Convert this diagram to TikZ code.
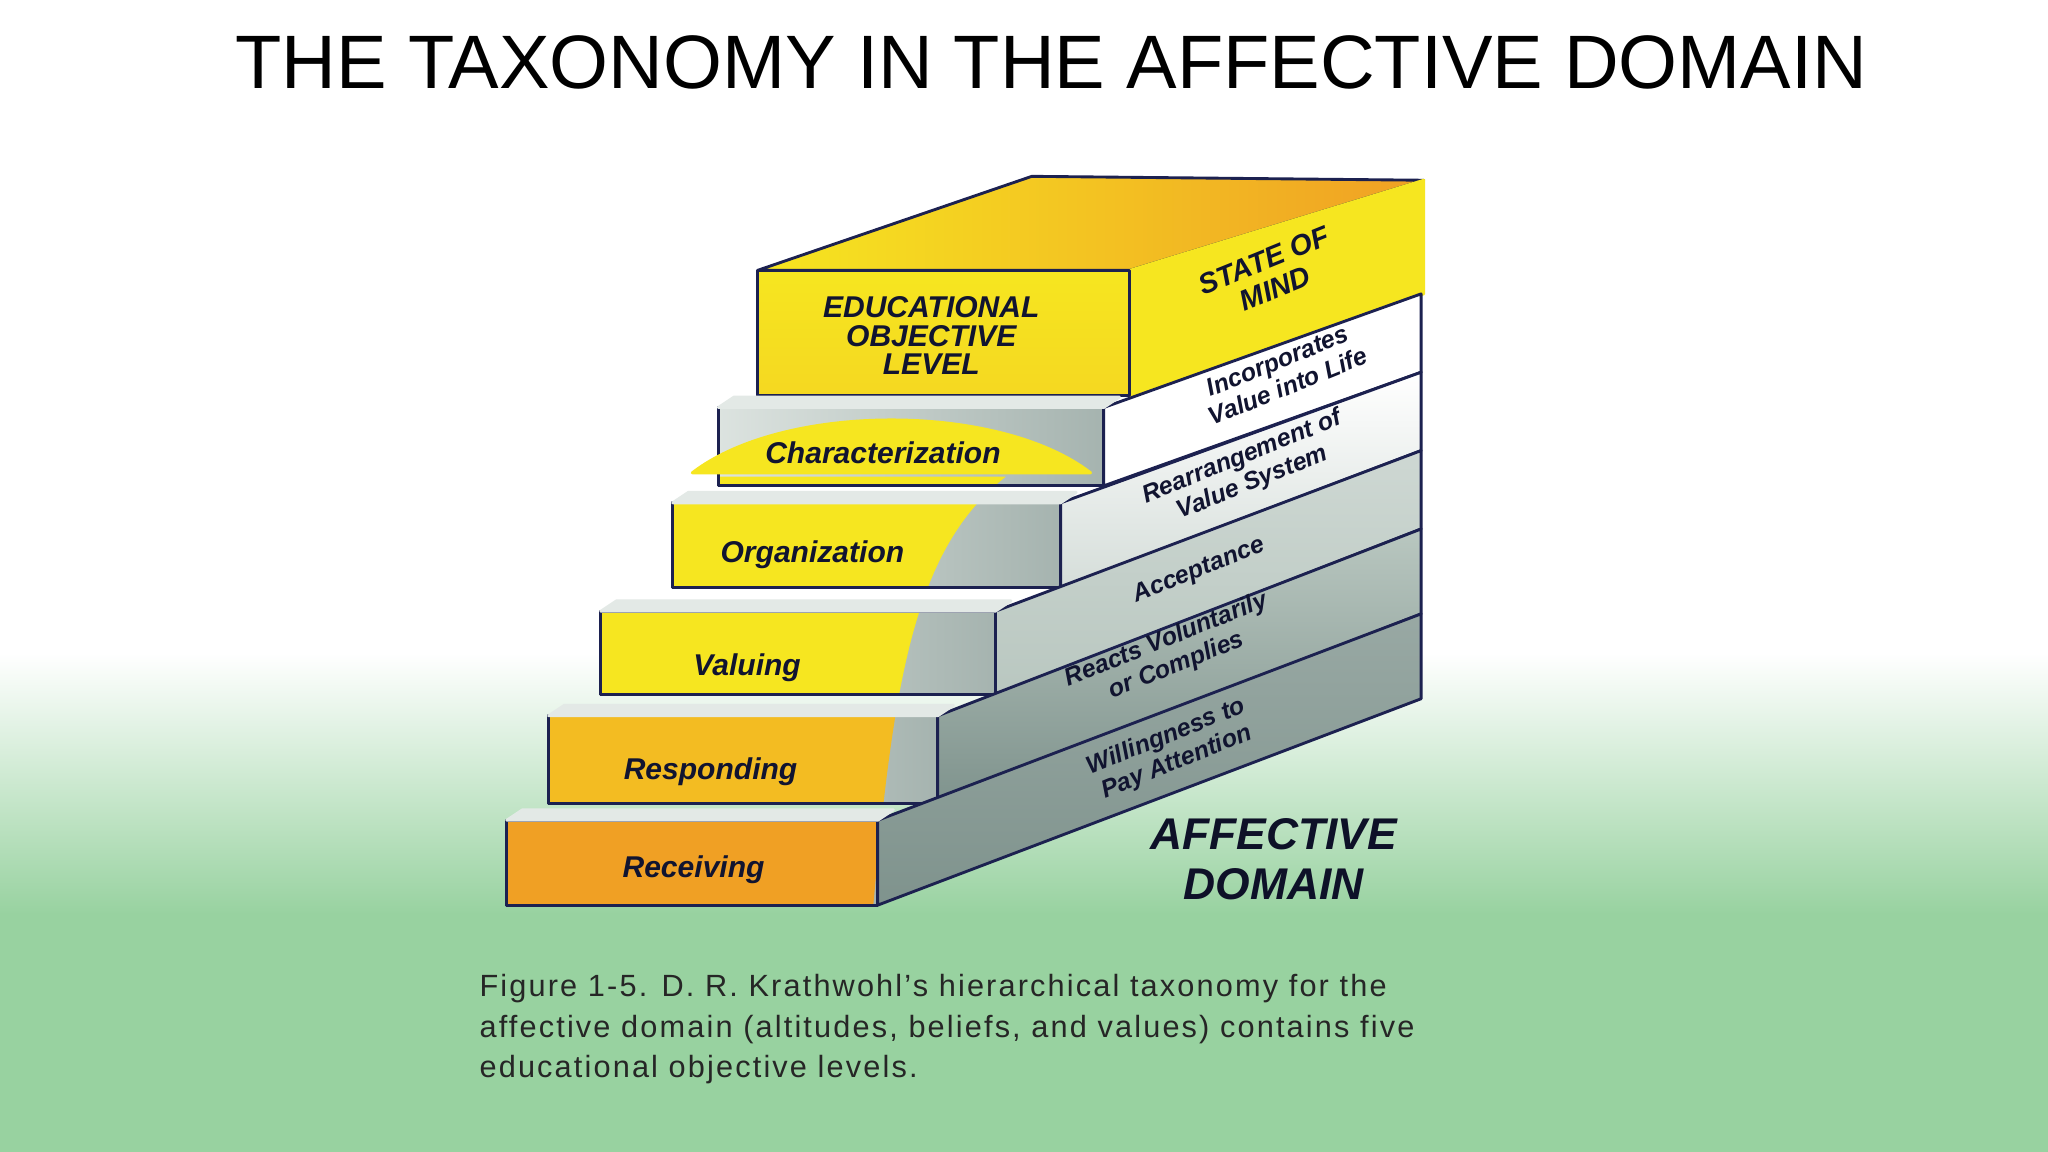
\documentclass[tikz,border=0pt]{standalone}
\usepackage{fontspec}
\setmainfont{Liberation Sans}
\definecolor{navy}{HTML}{1C2150}
\definecolor{yel}{HTML}{F6E620}
\definecolor{org}{HTML}{F0A024}
\definecolor{gA}{HTML}{B9C7C0}
\definecolor{gB}{HTML}{7F938D}
\definecolor{grn}{HTML}{98D2A0}
\newcommand\myarch{(668,700) .. controls (684,520) and (700,420) .. (770,365) -- (520,365) -- (300,700) -- cycle}
\tikzset{edge/.style={draw=navy,line width=2.2pt,line join=round},
 lab/.style={font=\bfseries\itshape\fontsize{23}{24}\selectfont,text=navy!60!black,align=center,inner sep=0},
 rlab/.style={lab,font=\bfseries\itshape\fontsize{19}{21}\selectfont,rotate=22}}
\begin{document}
\begin{tikzpicture}[x=1pt,y=-1pt]
\useasboundingbox (0,0) rectangle (1568,882);
\fill[white] (0,0) rectangle (1568,500);
\shade[top color=white,bottom color=grn] (0,500) rectangle (1568,700);
\fill[grn] (0,699) rectangle (1568,882);
\node[font=\fontsize{58}{62}\selectfont] (title) at (805,48) {THE TAXONOMY IN THE AFFECTIVE DOMAIN};
% top box
\shade[edge,left color=yel,right color=org] (580,207) -- (790,135) -- (1090,138) -- (865,207) -- cycle;
\fill[edge,yel] (865,207) -- (1090,138) -- (1090,225) -- (865,303) -- cycle;
\shade[edge,top color=yel,bottom color=yel!80!org] (580,207) rectangle (865,303);
% steps back to front
\foreach \xl/\xr/\yt/\yb/\rt/\rb/\ca/\cb/\ac in {
 550/845/312/372/225/285/white/white/yel,
 515/812/385/450/285/345/white/gA!60/yel,
 460/762/468/532/345/405/gA!70/gA/yel,
 420/718/548/615/405/470/gA/gB/yel!40!org,
 388/672/628/693/470/535/gB!80/gB/org}{
 \shade[edge,top color=\ca,bottom color=\cb] (\xr,\yt) -- (1088,\rt) -- (1088,\rb) -- (\xr,\yb) -- cycle;
 \shade[edge,left color=gA!50,right color=gB!70] (\xl,\yt) rectangle (\xr,\yb);
 \begin{scope}\clip (\xl,\yt) rectangle (\xr,\yb);
 \fill[\ac] \myarch; \end{scope}
 \draw[edge] (\xl,\yt) rectangle (\xr,\yb);
 \fill[edge,gA!40] (\xl,\yt) -- (\xr,\yt) -- (\xr+12,\yt-8) -- (\xl+12,\yt-8) -- cycle;
}
\fill[edge,yel] (530,362) .. controls (600,308) and (765,308) .. (835,362) -- cycle;
% labels
\node[lab] (eol) at (713,257) {EDUCATIONAL\\[-2pt]OBJECTIVE\\[-2pt]LEVEL};
\node[rlab,font=\bfseries\itshape\fontsize{22}{23}\selectfont] (som) at (972,210) {STATE OF\\MIND};
\node[lab] (c) at (676,347) {Characterization};
\node[lab] (o) at (622,425) {Organization};
\node[lab] (v) at (572,511) {Valuing};
\node[lab] (r) at (544,591) {Responding};
\node[lab] (rc) at (531,666) {Receiving};
\node[rlab] (l4) at (982,286) {Incorporates\\Value into Life};
\node[rlab] (l3) at (955,360) {Rearrangement of\\Value System};
\node[rlab] (l2) at (918,437) {Acceptance};
\node[rlab] (l1) at (897,500) {Reacts Voluntarily\\or Complies};
\node[rlab] (l0) at (897,574) {Willingness to\\Pay Attention};
\node[lab,font=\bfseries\itshape\fontsize{34}{38}\selectfont,text=navy!50!black] (ad) at (975,658) {AFFECTIVE\\DOMAIN};
\node[anchor=north west,align=left,font=\fontsize{23.5}{31}\selectfont\addfontfeatures{LetterSpace=7},text=black!85,inner sep=0] (cap) at (367,746)
 {Figure 1-5. D. R. Krathwohl's hierarchical taxonomy for the\\affective domain (altitudes, beliefs, and values) contains five\\educational objective levels.};
\end{tikzpicture}
\end{document}
